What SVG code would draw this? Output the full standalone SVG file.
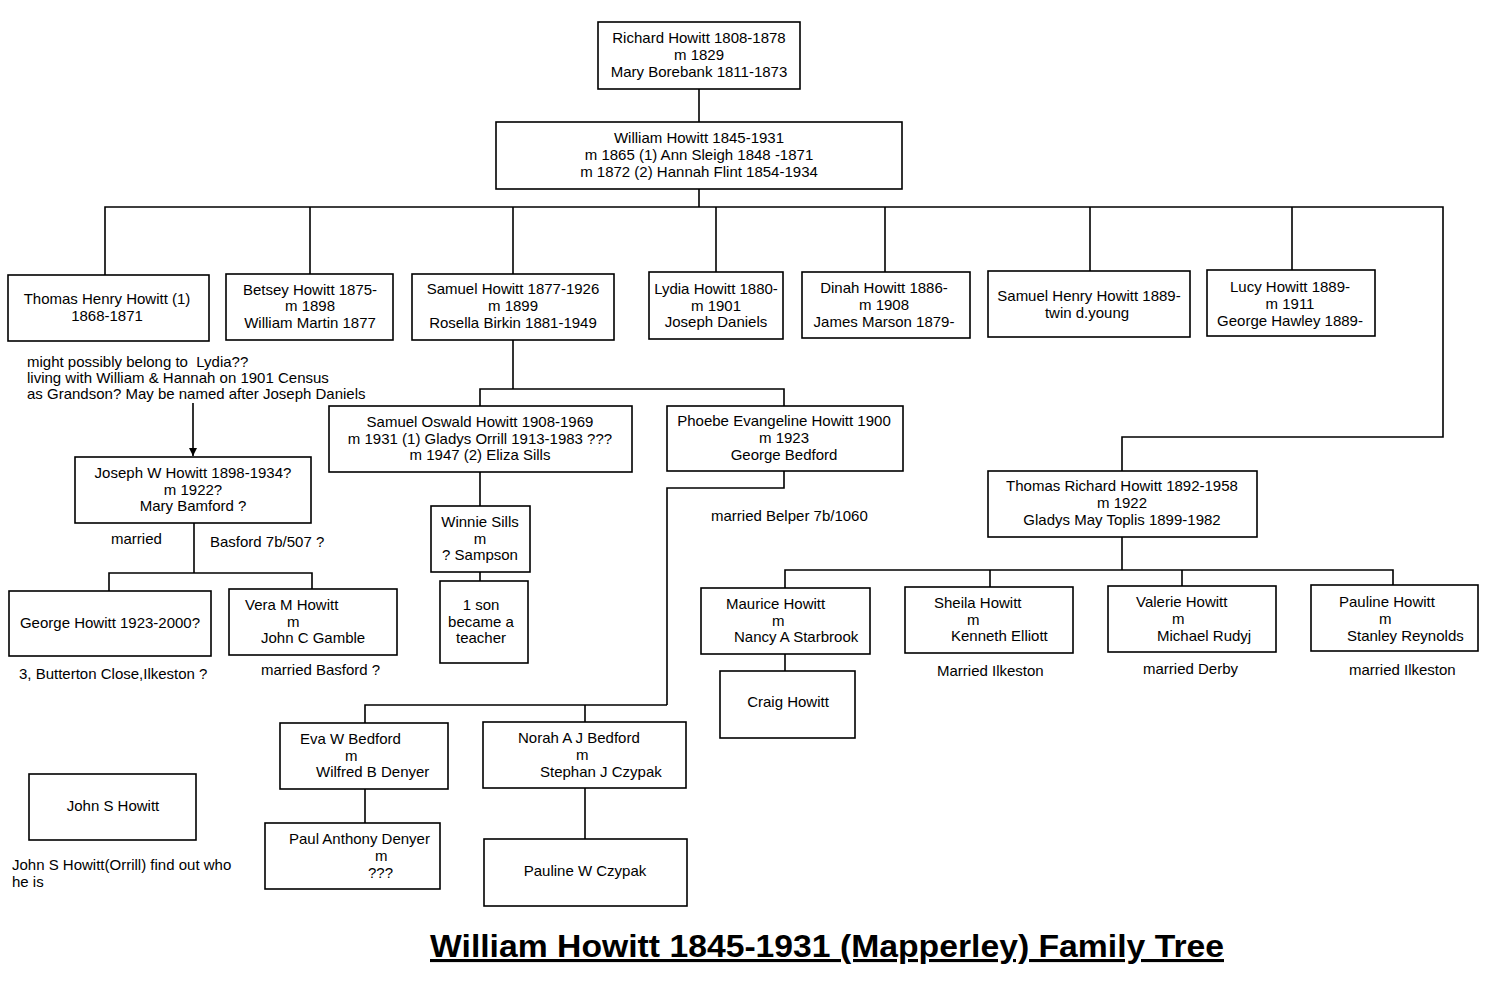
<svg xmlns="http://www.w3.org/2000/svg" width="1500" height="994" viewBox="0 0 1500 994">
<style>
.bg{fill:#ffffff}
.box{fill:#ffffff;stroke:#000;stroke-width:1.6}
.ln{fill:none;stroke:#000;stroke-width:1.6}
text{font-family:"Liberation Sans",Arial,sans-serif;font-size:15px;fill:#000}
.c{text-anchor:middle}
.title{font-size:31px;font-weight:bold;text-decoration:underline}
</style>
<defs>
<marker id="ah" viewBox="0 0 10 10" refX="10" refY="5" markerWidth="8" markerHeight="8" markerUnits="userSpaceOnUse" orient="auto">
<path d="M0,0 L10,5 L0,10 z" fill="#000"/>
</marker>
</defs>
<rect class="bg" x="0" y="0" width="1500" height="994"/>

<g id="connectors">
<path class="ln" d="M699,89 V123"/>
<path class="ln" d="M699,189 V207"/>
<path class="ln" d="M105,275 V207 H1443 V437 H1122 V471"/>
<path class="ln" d="M310,207 V274"/>
<path class="ln" d="M513,207 V274"/>
<path class="ln" d="M716,207 V272"/>
<path class="ln" d="M885,207 V272"/>
<path class="ln" d="M1090,207 V271"/>
<path class="ln" d="M1292,207 V270"/>
<path class="ln" d="M513,340 V389"/>
<path class="ln" d="M480,406 V389 H784 V406"/>
<path class="ln" d="M480,472 V506"/>
<path class="ln" d="M480,572 V581"/>
<path class="ln" d="M784,471 V488 H667 V705"/>
<path class="ln" d="M365,723 V705 H667"/>
<path class="ln" d="M585,705 V722"/>
<path class="ln" d="M365,789 V823"/>
<path class="ln" d="M585,788 V839"/>
<path class="ln" d="M193,403 V456" marker-end="url(#ah)"/>
<path class="ln" d="M194,523 V573"/>
<path class="ln" d="M109,591 V573 H312 V589"/>
<path class="ln" d="M1122,537 V570"/>
<path class="ln" d="M785,588 V570 H1393 V585"/>
<path class="ln" d="M990,570 V587"/>
<path class="ln" d="M1182,570 V586"/>
<path class="ln" d="M785,654 V671"/>
</g>

<g id="richard">
<rect class="box" x="598" y="22" width="202" height="67"/>
<text class="c" x="699" y="43">Richard Howitt 1808-1878</text>
<text class="c" x="699" y="60">m 1829</text>
<text class="c" x="699" y="77">Mary Borebank 1811-1873</text>
</g>

<g id="william">
<rect class="box" x="496" y="122" width="406" height="67"/>
<text class="c" x="699" y="143">William Howitt 1845-1931</text>
<text class="c" x="699" y="160">m 1865 (1) Ann Sleigh 1848 -1871</text>
<text class="c" x="699" y="177">m 1872 (2) Hannah Flint 1854-1934</text>
</g>

<g id="thomas-henry">
<rect class="box" x="8" y="275" width="201" height="66"/>
<text class="c" x="107" y="304">Thomas Henry Howitt (1)</text>
<text class="c" x="107" y="321">1868-1871</text>
</g>

<g id="betsey">
<rect class="box" x="226" y="274" width="167" height="66"/>
<text class="c" x="310" y="295">Betsey Howitt 1875-</text>
<text class="c" x="310" y="311">m 1898</text>
<text class="c" x="310" y="328">William Martin 1877</text>
</g>

<g id="samuel">
<rect class="box" x="412" y="274" width="202" height="66"/>
<text class="c" x="513" y="294">Samuel Howitt 1877-1926</text>
<text class="c" x="513" y="311">m 1899</text>
<text class="c" x="513" y="328">Rosella Birkin 1881-1949</text>
</g>

<g id="lydia">
<rect class="box" x="649" y="272" width="134" height="67"/>
<text class="c" x="716" y="294">Lydia Howitt 1880-</text>
<text class="c" x="716" y="311">m 1901</text>
<text class="c" x="716" y="327">Joseph Daniels</text>
</g>

<g id="dinah">
<rect class="box" x="802" y="272" width="168" height="66"/>
<text class="c" x="884" y="293">Dinah Howitt 1886-</text>
<text class="c" x="884" y="310">m 1908</text>
<text class="c" x="884" y="327">James Marson 1879-</text>
</g>

<g id="samuel-henry">
<rect class="box" x="988" y="271" width="202" height="66"/>
<text class="c" x="1089" y="301">Samuel Henry Howitt 1889-</text>
<text class="c" x="1087" y="318">twin d.young</text>
</g>

<g id="lucy">
<rect class="box" x="1207" y="270" width="168" height="66"/>
<text class="c" x="1290" y="292">Lucy Howitt 1889-</text>
<text class="c" x="1290" y="309">m 1911</text>
<text class="c" x="1290" y="326">George Hawley 1889-</text>
</g>

<g id="note-lydia">
<text x="27" y="367" xml:space="preserve">might possibly belong to  Lydia??</text>
<text x="27" y="383">living with William &amp; Hannah on 1901 Census</text>
<text x="27" y="399">as Grandson? May be named after Joseph Daniels</text>
</g>

<g id="joseph">
<rect class="box" x="75" y="457" width="236" height="66"/>
<text class="c" x="193" y="478">Joseph W Howitt 1898-1934?</text>
<text class="c" x="193" y="495">m 1922?</text>
<text class="c" x="193" y="511">Mary Bamford ?</text>
</g>
<text x="111" y="544">married</text>
<text x="210" y="547">Basford 7b/507 ?</text>

<g id="george">
<rect class="box" x="9" y="591" width="202" height="65"/>
<text class="c" x="110" y="628">George Howitt 1923-2000?</text>
<text x="19" y="679">3, Butterton Close,Ilkeston ?</text>
</g>

<g id="vera">
<rect class="box" x="229" y="589" width="168" height="66"/>
<text x="245" y="610">Vera M Howitt</text>
<text x="287" y="627">m</text>
<text x="261" y="643">John C Gamble</text>
<text x="261" y="675">married Basford ?</text>
</g>

<g id="samuel-oswald">
<rect class="box" x="329" y="406" width="303" height="66"/>
<text class="c" x="480" y="427">Samuel Oswald Howitt 1908-1969</text>
<text class="c" x="480" y="444">m 1931 (1) Gladys Orrill 1913-1983 ???</text>
<text class="c" x="480" y="460">m 1947 (2) Eliza Sills</text>
</g>

<g id="winnie">
<rect class="box" x="431" y="506" width="99" height="66"/>
<text class="c" x="480" y="527">Winnie Sills</text>
<text class="c" x="480" y="544">m</text>
<text class="c" x="480" y="560">? Sampson</text>
</g>

<g id="son">
<rect class="box" x="440" y="581" width="88" height="82"/>
<text class="c" x="481" y="610">1 son</text>
<text class="c" x="481" y="627">became a</text>
<text class="c" x="481" y="643">teacher</text>
</g>

<g id="phoebe">
<rect class="box" x="667" y="406" width="236" height="65"/>
<text class="c" x="784" y="426">Phoebe Evangeline Howitt 1900</text>
<text class="c" x="784" y="443">m 1923</text>
<text class="c" x="784" y="460">George Bedford</text>
</g>
<text x="711" y="521">married Belper 7b/1060</text>

<g id="eva">
<rect class="box" x="280" y="723" width="168" height="66"/>
<text x="300" y="744">Eva W Bedford</text>
<text x="345" y="761">m</text>
<text x="316" y="777">Wilfred B Denyer</text>
</g>

<g id="paul">
<rect class="box" x="265" y="823" width="175" height="66"/>
<text x="289" y="844">Paul Anthony Denyer</text>
<text x="375" y="861">m</text>
<text x="368" y="878">???</text>
</g>

<g id="norah">
<rect class="box" x="483" y="722" width="203" height="66"/>
<text x="518" y="743">Norah A J Bedford</text>
<text x="576" y="760">m</text>
<text x="540" y="777">Stephan J Czypak</text>
</g>

<g id="pauline-w">
<rect class="box" x="484" y="839" width="203" height="67"/>
<text class="c" x="585" y="876">Pauline W Czypak</text>
</g>

<g id="john-s">
<rect class="box" x="29" y="774" width="167" height="66"/>
<text class="c" x="113" y="811">John S Howitt</text>
<text x="12" y="870">John S Howitt(Orrill) find out who</text>
<text x="12" y="887">he is</text>
</g>

<g id="thomas-richard">
<rect class="box" x="988" y="471" width="269" height="66"/>
<text class="c" x="1122" y="491">Thomas Richard Howitt 1892-1958</text>
<text class="c" x="1122" y="508">m 1922</text>
<text class="c" x="1122" y="525">Gladys May Toplis 1899-1982</text>
</g>

<g id="maurice">
<rect class="box" x="701" y="588" width="169" height="66"/>
<text x="726" y="609">Maurice Howitt</text>
<text x="772" y="626">m</text>
<text x="734" y="642">Nancy A Starbrook</text>
</g>

<g id="craig">
<rect class="box" x="720" y="671" width="135" height="67"/>
<text class="c" x="788" y="707">Craig Howitt</text>
</g>

<g id="sheila">
<rect class="box" x="905" y="587" width="168" height="66"/>
<text x="934" y="608">Sheila Howitt</text>
<text x="967" y="625">m</text>
<text x="951" y="641">Kenneth Elliott</text>
<text x="937" y="676">Married Ilkeston</text>
</g>

<g id="valerie">
<rect class="box" x="1108" y="586" width="168" height="66"/>
<text x="1136" y="607">Valerie Howitt</text>
<text x="1172" y="624">m</text>
<text x="1157" y="641">Michael Rudyj</text>
<text x="1143" y="674">married Derby</text>
</g>

<g id="pauline">
<rect class="box" x="1311" y="585" width="167" height="66"/>
<text x="1339" y="607">Pauline Howitt</text>
<text x="1379" y="624">m</text>
<text x="1347" y="641">Stanley Reynolds</text>
<text x="1349" y="675">married Ilkeston</text>
</g>

<text class="title" x="430" y="957" textLength="794" lengthAdjust="spacingAndGlyphs">William Howitt 1845-1931 (Mapperley) Family Tree</text>
</svg>
